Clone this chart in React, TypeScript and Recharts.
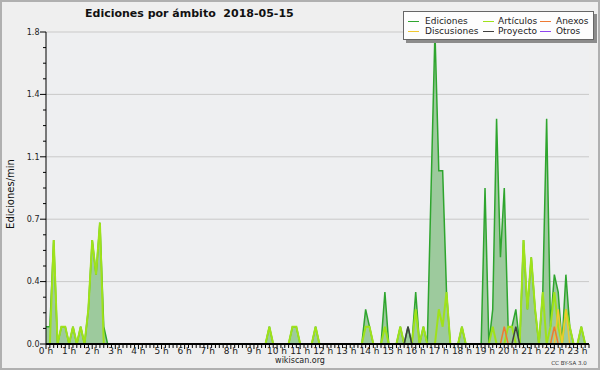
import React from 'react';
import { ComposedChart, Area, Line, XAxis, YAxis, CartesianGrid } from 'recharts';

// 10-minute bins, k = 0..141 (00:00 .. 23:30), values in edits/min, one row per hour
const ediciones = [
  0.1, 0.1, 0.6, 0, 0.1, 0.1, // 0 h
  0, 0.1, 0, 0.1, 0, 0.2, // 1 h
  0.6, 0.4, 0.7, 0.1, 0, 0, // 2 h
  0, 0, 0, 0, 0, 0, // 3 h
  0, 0, 0, 0, 0, 0, // 4 h
  0, 0, 0, 0, 0, 0, // 5 h
  0, 0, 0, 0, 0, 0, // 6 h
  0, 0, 0, 0, 0, 0, // 7 h
  0, 0, 0, 0, 0, 0, // 8 h
  0, 0, 0, 0, 0.1, 0, // 9 h
  0, 0, 0, 0, 0.1, 0.1, // 10 h
  0, 0, 0, 0, 0.1, 0, // 11 h
  0, 0, 0, 0, 0, 0, // 12 h
  0, 0, 0, 0, 0, 0.2, // 13 h
  0.1, 0, 0, 0, 0.3, 0, // 14 h
  0, 0, 0.1, 0, 0.1, 0, // 15 h
  0.3, 0, 0.1, 0, 0.9, 1.8, // 16 h
  1.0, 1.0, 0.3, 0, 0, 0, // 17 h
  0.1, 0, 0, 0, 0, 0, // 18 h
  0.9, 0, 0.2, 1.3, 0.5, 0.9, // 19 h
  0.1, 0.1, 0.2, 0, 0.6, 0.2, // 20 h
  0.5, 0.2, 0, 0.3, 1.3, 0.1, // 21 h
  0.4, 0.3, 0, 0.4, 0.1, 0, // 22 h
  0, 0.1, 0, 0, // 23 h
];

const articulos = [
  0, 0, 0.6, 0, 0.1, 0.1, // 0 h
  0, 0.1, 0, 0.1, 0, 0.2, // 1 h
  0.6, 0.4, 0.7, 0, 0, 0, // 2 h
  0, 0, 0, 0, 0, 0, // 3 h
  0, 0, 0, 0, 0, 0, // 4 h
  0, 0, 0, 0, 0, 0, // 5 h
  0, 0, 0, 0, 0, 0, // 6 h
  0, 0, 0, 0, 0, 0, // 7 h
  0, 0, 0, 0, 0, 0, // 8 h
  0, 0, 0, 0, 0.1, 0, // 9 h
  0, 0, 0, 0, 0.1, 0.1, // 10 h
  0, 0, 0, 0, 0.1, 0, // 11 h
  0, 0, 0, 0, 0, 0, // 12 h
  0, 0, 0, 0, 0, 0.1, // 13 h
  0.1, 0, 0, 0, 0.1, 0, // 14 h
  0, 0, 0.1, 0, 0, 0, // 15 h
  0.2, 0, 0.1, 0, 0, 0, // 16 h
  0.2, 0.1, 0.3, 0, 0, 0, // 17 h
  0.1, 0, 0, 0, 0, 0, // 18 h
  0, 0, 0.1, 0, 0, 0, // 19 h
  0.1, 0.1, 0, 0, 0.6, 0.2, // 20 h
  0.5, 0.2, 0, 0.3, 0, 0.1, // 21 h
  0.3, 0.1, 0, 0.2, 0.1, 0, // 22 h
  0, 0.1, 0, 0, // 23 h
];

const anexos = [
  0, 0, 0, 0, 0, 0, // 0 h
  0, 0, 0, 0, 0, 0, // 1 h
  0, 0, 0, 0, 0, 0, // 2 h
  0, 0, 0, 0, 0, 0, // 3 h
  0, 0, 0, 0, 0, 0, // 4 h
  0, 0, 0, 0, 0, 0, // 5 h
  0, 0, 0, 0, 0, 0, // 6 h
  0, 0, 0, 0, 0, 0, // 7 h
  0, 0, 0, 0, 0, 0, // 8 h
  0, 0, 0, 0, 0, 0, // 9 h
  0, 0, 0, 0, 0, 0, // 10 h
  0, 0, 0, 0, 0, 0, // 11 h
  0, 0, 0, 0, 0, 0, // 12 h
  0, 0, 0, 0, 0, 0, // 13 h
  0, 0, 0, 0, 0, 0, // 14 h
  0, 0, 0, 0, 0, 0, // 15 h
  0, 0, 0, 0, 0, 0, // 16 h
  0, 0, 0, 0, 0, 0, // 17 h
  0, 0, 0, 0, 0, 0, // 18 h
  0, 0, 0, 0, 0, 0.1, // 19 h
  0, 0, 0, 0, 0, 0, // 20 h
  0, 0, 0, 0, 0, 0, // 21 h
  0.1, 0, 0, 0, 0, 0, // 22 h
  0, 0, 0, 0, // 23 h
];

const discusiones = [
  0, 0, 0, 0, 0, 0, // 0 h
  0, 0, 0, 0, 0, 0, // 1 h
  0, 0, 0, 0, 0, 0, // 2 h
  0, 0, 0, 0, 0, 0, // 3 h
  0, 0, 0, 0, 0, 0, // 4 h
  0, 0, 0, 0, 0, 0, // 5 h
  0, 0, 0, 0, 0, 0, // 6 h
  0, 0, 0, 0, 0, 0, // 7 h
  0, 0, 0, 0, 0, 0, // 8 h
  0, 0, 0, 0, 0, 0, // 9 h
  0, 0, 0, 0, 0, 0, // 10 h
  0, 0, 0, 0, 0, 0, // 11 h
  0, 0, 0, 0, 0, 0, // 12 h
  0, 0, 0, 0, 0, 0, // 13 h
  0, 0, 0, 0, 0, 0, // 14 h
  0, 0, 0, 0, 0, 0, // 15 h
  0, 0, 0, 0, 0, 0, // 16 h
  0, 0, 0, 0, 0, 0, // 17 h
  0, 0, 0, 0, 0, 0, // 18 h
  0, 0, 0, 0, 0, 0, // 19 h
  0, 0, 0, 0, 0, 0, // 20 h
  0, 0, 0, 0, 0, 0, // 21 h
  0, 0.2, 0, 0.2, 0, 0, // 22 h
  0, 0, 0, 0, // 23 h
];

const proyecto = [
  0, 0, 0, 0, 0, 0, // 0 h
  0, 0, 0, 0, 0, 0, // 1 h
  0, 0, 0, 0, 0, 0, // 2 h
  0, 0, 0, 0, 0, 0, // 3 h
  0, 0, 0, 0, 0, 0, // 4 h
  0, 0, 0, 0, 0, 0, // 5 h
  0, 0, 0, 0, 0, 0, // 6 h
  0, 0, 0, 0, 0, 0, // 7 h
  0, 0, 0, 0, 0, 0, // 8 h
  0, 0, 0, 0, 0, 0, // 9 h
  0, 0, 0, 0, 0, 0, // 10 h
  0, 0, 0, 0, 0, 0, // 11 h
  0, 0, 0, 0, 0, 0, // 12 h
  0, 0, 0, 0, 0, 0, // 13 h
  0, 0, 0, 0, 0, 0, // 14 h
  0, 0, 0, 0, 0.1, 0, // 15 h
  0, 0, 0, 0, 0, 0, // 16 h
  0, 0, 0, 0, 0, 0, // 17 h
  0, 0, 0, 0, 0, 0, // 18 h
  0, 0, 0, 0, 0, 0, // 19 h
  0, 0, 0.1, 0, 0, 0, // 20 h
  0, 0, 0, 0, 0, 0, // 21 h
  0, 0, 0, 0, 0, 0, // 22 h
  0, 0, 0, 0, // 23 h
];

const otros = ediciones.map(() => 0);

const hourLabels = [
  '0 h', '1 h', '2 h', '3 h', '4 h', '5 h', '6 h', '7 h', '8 h', '9 h', '10 h', '11 h',
  '12 h', '13 h', '14 h', '15 h', '16 h', '17 h', '18 h', '19 h', '20 h', '21 h', '22 h', '23 h',
];
const yMajor = [0, 0.36, 0.72, 1.08, 1.44, 1.8];
const yTickLabels = ['0.0', '0.4', '0.7', '1.1', '1.4', '1.8'];
const yMinor = Array.from({ length: 21 }, (_, i) => Math.round(i * 0.09 * 1000) / 1000);
const xTicks = ediciones.map((_, k) => k);

const seriesNames = ['Ediciones', 'Artículos', 'Anexos', 'Discusiones', 'Proyecto', 'Otros'];
const seriesColors = ['#2ea52e', '#9fe21a', '#ee7a33', '#f0c830', '#3f3f3f', '#8e44ee'];
const legendOrder = [0, 1, 2, 3, 4, 5];

const data = ediciones.map((v, k) => ({
  k,
  ed: v,
  art: articulos[k],
  anx: anexos[k],
  dis: discusiones[k],
  pro: proyecto[k],
  otr: otros[k],
}));

const FONT = '"DejaVu Sans", sans-serif';

const XTick = (props: any) => {
  const { x, y, payload } = props;
  const k = payload.value;
  const major = k % 6 === 0;
  return (
    <g>
      <line x1={x} y1={y} x2={x} y2={y + (major ? 5 : 4)} stroke="#000" strokeWidth={1} />
      {major && (
        <text x={x} y={y + 9.5} textAnchor="middle" fontSize={9} fill="#222" fontFamily={FONT}>
          {hourLabels[k / 6]}
        </text>
      )}
    </g>
  );
};

const YTick = (props: any) => {
  const { x, y, payload } = props;
  const v = payload.value;
  const idx = yMajor.findIndex((m) => Math.abs(m - v) < 1e-6);
  const major = idx >= 0;
  return (
    <g>
      <line x1={x - (major ? 6 : 3)} y1={y} x2={x} y2={y} stroke="#000" strokeWidth={1} />
      {major && (
        <text x={x - 6.5} y={y + 2.8} textAnchor="end" fontSize={8} fill="#222" fontFamily={FONT}>
          {yTickLabels[idx]}
        </text>
      )}
    </g>
  );
};

const colX = [[4, 21], [79, 94], [136, 152]];
const rowY = [8.5, 18.5];

const LegendBox = () => (
  <div
    style={{
      position: 'absolute',
      left: 403,
      top: 11,
      width: 189,
      height: 27,
      background: '#fdfdfd',
      border: '1px solid #666',
      boxShadow: '3px 3px 0 #8c8c8c',
      fontFamily: FONT,
      fontSize: 9,
      color: '#222',
    }}
  >
    {legendOrder.map((si, i) => {
      const col = i % 3;
      const row = Math.floor(i / 3);
      return (
        <div key={si}>
          <div
            style={{
              position: 'absolute',
              left: colX[col][0],
              top: rowY[row],
              width: 11,
              height: 1,
              background: seriesColors[si],
            }}
          />
          <div
            style={{
              position: 'absolute',
              left: colX[col][1],
              top: rowY[row] - 6,
              lineHeight: '12px',
              whiteSpace: 'nowrap',
            }}
          >
            {seriesNames[si]}
          </div>
        </div>
      );
    })}
  </div>
);

export default function App() {
  return (
    <div
      style={{
        position: 'absolute',
        left: 0,
        top: 0,
        width: 600,
        height: 370,
        background: '#efefef',
        fontFamily: FONT,
        overflow: 'hidden',
      }}
    >
      <ComposedChart width={600} height={370} data={data} margin={{ top: 32, right: 11, bottom: 0, left: 0 }}>
        <CartesianGrid horizontal vertical={false} horizontalValues={yMajor} stroke="#c9c9c9" fill="#eeeff1" />
        <Line type="linear" dataKey="otr" stroke={seriesColors[5]} strokeWidth={1} dot={false} activeDot={false} isAnimationActive={false} />
        <Area type="linear" dataKey="ed" stroke={seriesColors[0]} strokeWidth={1.5} fill="#9dca9d" fillOpacity={1} dot={false} activeDot={false} isAnimationActive={false} />
        <Line type="linear" dataKey="art" stroke={seriesColors[1]} strokeWidth={2} dot={false} activeDot={false} isAnimationActive={false} />
        <Line type="linear" dataKey="dis" stroke={seriesColors[3]} strokeWidth={1.5} dot={false} activeDot={false} isAnimationActive={false} />
        <Line type="linear" dataKey="anx" stroke={seriesColors[2]} strokeWidth={1.5} dot={false} activeDot={false} isAnimationActive={false} />
        <Line type="linear" dataKey="pro" stroke={seriesColors[4]} strokeWidth={1.5} dot={false} activeDot={false} isAnimationActive={false} />
        <XAxis
          dataKey="k"
          type="number"
          domain={[0, 141]}
          ticks={xTicks}
          interval={0}
          height={26}
          tickSize={0}
          tickMargin={0}
          tick={<XTick />}
          axisLine={{ stroke: '#000', strokeWidth: 2 }}
          tickLine={false}
        />
        <YAxis
          type="number"
          domain={[0, 1.8]}
          ticks={yMinor}
          interval={0}
          width={46}
          tickSize={0}
          tickMargin={0}
          tick={<YTick />}
          axisLine={{ stroke: '#000', strokeWidth: 1 }}
          tickLine={false}
        />
      </ComposedChart>
      <LegendBox />
      <div
        style={{
          position: 'absolute',
          left: 85,
          top: 7,
          fontSize: 11,
          fontWeight: 'bold',
          lineHeight: '14px',
          whiteSpace: 'pre',
          color: '#111',
        }}
      >
        {'Ediciones por ámbito  2018-05-15'}
      </div>
      <div
        style={{
          position: 'absolute',
          left: 11,
          top: 194,
          transform: 'translate(-50%, -50%) rotate(-90deg)',
          fontSize: 10,
          lineHeight: '12px',
          whiteSpace: 'nowrap',
          color: '#111',
        }}
      >
        Ediciones/min
      </div>
      <div
        style={{
          position: 'absolute',
          left: 300,
          top: 361,
          transform: 'translate(-50%, -50%)',
          fontSize: 8,
          lineHeight: '10px',
          whiteSpace: 'nowrap',
          color: '#222',
        }}
      >
        wikiscan.org
      </div>
      <div
        style={{
          position: 'absolute',
          left: 569,
          top: 363,
          transform: 'translate(-50%, -50%)',
          fontSize: 5.5,
          lineHeight: '7px',
          whiteSpace: 'nowrap',
          color: '#333',
        }}
      >
        CC BY-SA 3.0
      </div>
      <div
        style={{
          position: 'absolute',
          left: 0,
          top: 0,
          width: 600,
          height: 370,
          boxSizing: 'border-box',
          border: '2px solid #b0b0b0',
          pointerEvents: 'none',
        }}
      />
    </div>
  );
}
